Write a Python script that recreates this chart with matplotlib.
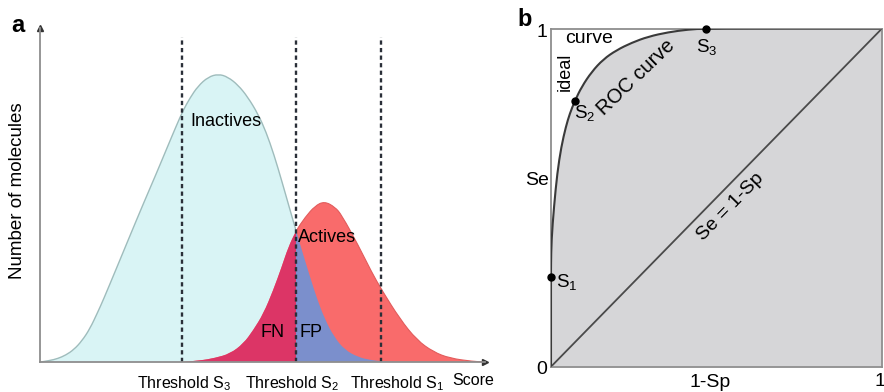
import matplotlib
matplotlib.use('Agg')
from matplotlib import pyplot as plt
from matplotlib.path import Path
from matplotlib.patches import PathPatch, Rectangle

plt.rcParams['font.family'] = ['Liberation Sans', 'DejaVu Sans']
plt.rcParams['mathtext.fontset'] = 'custom'
plt.rcParams['mathtext.rm'] = 'Liberation Sans'
plt.rcParams['mathtext.default'] = 'regular'

# score distributions: score on a 0-100 scale, counts scaled so the inactive peak is 100
inactive_score = [0.2, 2.2, 4.0, 5.8, 7.6, 9.4, 11.2, 13.0, 14.2, 17.2, 20.2, 23.2,
                  26.1, 28.8, 30.6, 32.1, 33.7, 35.5, 37.8, 40.1, 42.2, 44.5, 46.7,
                  49.0, 50.8, 52.6, 54.4, 56.0, 57.5, 59.1, 60.7, 62.2, 64.0, 66.1,
                  68.5, 71.5, 74.2, 77.1, 79.8]
inactive_count = [0.0, 0.5, 1.2, 2.4, 4.3, 7.3, 11.5, 17.4, 21.5, 32.6, 43.8, 54.9,
                  65.3, 75.3, 81.9, 87.2, 91.7, 95.8, 99.0, 100.0, 99.0, 96.2, 92.0,
                  86.1, 79.9, 71.9, 62.5, 53.8, 45.8, 37.5, 29.5, 22.2, 14.9, 8.7,
                  4.2, 1.7, 0.7, 0.2, 0.0]
active_score = [31.9, 36.0, 39.3, 42.7, 45.7, 47.9, 50.2, 52.4, 54.3, 55.8, 57.5,
                59.6, 61.8, 63.9, 66.3, 67.8, 71.5, 74.5, 76.8, 80.9, 84.7, 88.4,
                92.1, 97.3, 100.0]
active_count = [0.0, 0.5, 1.4, 2.9, 6.4, 11.0, 16.8, 24.9, 33.0, 39.9, 45.5,
                50.3, 54.2, 55.8, 53.8, 51.0, 40.6, 31.3, 25.0, 14.9, 7.6, 3.5,
                1.3, 0.2, 0.0]

thresholds = [76.6, 57.5, 31.9]
threshold_labels = ['Threshold S$_1$', 'Threshold S$_2$', 'Threshold S$_3$']
threshold_label_x = [80.2, 56.6, 32.4]
s2 = thresholds[1]

# ROC curve: 1-Sp against Se
roc_fpr = [0.0, 0.0, 0.0, 0.0015, 0.009, 0.019, 0.031, 0.045, 0.057, 0.0725, 0.093,
           0.123, 0.158, 0.198, 0.244, 0.294, 0.354, 0.415, 0.468, 1.0]
roc_tpr = [0.0, 0.264, 0.30, 0.375, 0.473, 0.573, 0.650, 0.710, 0.749, 0.787, 0.828,
           0.872, 0.909, 0.936, 0.958, 0.976, 0.989, 0.997, 1.0, 1.0]
point_names = ['S$_1$', 'S$_2$', 'S$_3$']
point_fpr = [0.0, 0.0725, 0.468]
point_tpr = [0.264, 0.787, 1.0]


def smooth_path(xs, ys, close=False):
    # quadratic bezier through the midpoints, the samples act as control points
    verts = [(xs[0], ys[0])]
    codes = [Path.MOVETO]
    for i in range(1, len(xs) - 1):
        verts += [(xs[i], ys[i]), ((xs[i] + xs[i + 1]) / 2, (ys[i] + ys[i + 1]) / 2)]
        codes += [Path.CURVE3, Path.CURVE3]
    verts.append((xs[-1], ys[-1]))
    codes.append(Path.LINETO)
    if close:
        verts += [(xs[-1], 0), (xs[0], 0), (xs[0], 0)]
        codes += [Path.LINETO, Path.LINETO, Path.CLOSEPOLY]
    return Path(verts, codes)


def add_clipped(ax, path, x0, x1, **kw):
    patch = PathPatch(path, **kw)
    ax.add_patch(patch)
    if x0 is not None:
        patch.set_clip_path(Rectangle((x0, -5), x1 - x0, 200, transform=ax.transData))
    return patch


fig = plt.figure(figsize=(8.84, 3.92), dpi=100)

# ---- panel a: score distributions ----
ax = fig.add_axes([40/884, 30/392, 445/884, 334/392])
ax.set_xlim(0, 100)
ax.set_ylim(0, 116)
inactive_fill = smooth_path(inactive_score, inactive_count, close=True)
active_fill = smooth_path(active_score, active_count, close=True)
add_clipped(ax, inactive_fill, None, None, facecolor='#d9f4f5', lw=0)
add_clipped(ax, active_fill, None, None, facecolor='#f96b6b', lw=0)
add_clipped(ax, active_fill, -5, s2, facecolor='#dc3566', lw=0)   # FN
add_clipped(ax, inactive_fill, s2, 105, facecolor='#7b8fcc', lw=0)  # FP
add_clipped(ax, smooth_path(inactive_score, inactive_count), -5, s2,
            fill=False, edgecolor='#9fbcbc', lw=1.0)
add_clipped(ax, smooth_path(active_score, active_count), s2, 105,
            fill=False, edgecolor='#e25c5c', lw=0.8)

for t in thresholds:
    ax.plot([t, t], [0, 112.8], color='#2a2f38', lw=1.7, linestyle=(0, (1.8, 1.4)))
for lx, lab in zip(threshold_label_x, threshold_labels):
    ax.text(lx, -9.0, lab, ha='center', va='baseline', fontsize=11.5, clip_on=False)
ax.text(92.6, -8.0, 'Score', ha='left', va='baseline', fontsize=11.5, clip_on=False)

ax.text(33.7, 83.7, 'Inactives', ha='left', va='center', fontsize=13)
ax.text(58.0, 43.2, 'Actives', ha='left', va='center', fontsize=13)
ax.text(52.2, 10.4, 'FN', ha='center', va='center', fontsize=13)
ax.text(60.9, 10.4, 'FP', ha='center', va='center', fontsize=13)

for side in ['top', 'right']:
    ax.spines[side].set_visible(False)
for side in ['left', 'bottom']:
    ax.spines[side].set_color('#8e8e8e')
    ax.spines[side].set_linewidth(1.3)
ax.set_xticks([])
ax.set_yticks([])
ax.plot(1, 0, '>', color='#333333', ms=4, transform=ax.get_yaxis_transform(), clip_on=False)
ax.plot(0, 1, '^', color='#333333', ms=4, transform=ax.get_xaxis_transform(), clip_on=False)

fig.text(18/884, 1 - 191/392, 'Number of molecules', rotation=90,
         ha='center', va='center', fontsize=13.5)
fig.text(18/884, 1 - 25/392, 'a', ha='center', va='center', fontsize=17, fontweight='bold')

# ---- panel b: ROC curve ----
bx = fig.add_axes([551/884, 25.3/392, 331/884, 338.2/392])
bx.set_xlim(0, 1)
bx.set_ylim(0, 1)
bx.add_patch(PathPatch(smooth_path(roc_fpr, roc_tpr, close=True), facecolor='#d6d6d8', lw=0))
bx.plot([0, 1], [0, 1], color='#4a4a4a', lw=1.3)
bx.add_patch(PathPatch(smooth_path(roc_fpr, roc_tpr), fill=False, edgecolor='#3a3a3a',
                       lw=1.5, zorder=4))
bx.plot(point_fpr, point_tpr, 'o', color='black', ms=5, clip_on=False, zorder=5)
for side in bx.spines.values():
    side.set_color('#8e8e8e')
    side.set_linewidth(1.3)
bx.set_xticks([])
bx.set_yticks([])

bx.text(-0.027, 0.987, '1', ha='center', va='center', fontsize=14)
bx.text(-0.027, -0.007, '0', ha='center', va='center', fontsize=14)
bx.text(0.48, -0.048, '1-Sp', ha='center', va='center', fontsize=14)
bx.text(0.994, -0.045, '1', ha='center', va='center', fontsize=14)
bx.text(-0.042, 0.552, 'Se', ha='center', va='center', fontsize=14)
bx.text(0.042, 0.871, 'ideal', rotation=90, ha='center', va='center', fontsize=13)
bx.text(0.115, 0.969, 'curve', ha='center', va='center', fontsize=14)
bx.text(0.257, 0.855, 'ROC curve', rotation=44, ha='center', va='center', fontsize=14.5)
bx.text(0.541, 0.472, 'Se = 1-Sp', rotation=45.6, ha='center', va='center', fontsize=14)
label_pos = [(0.048, 0.250), (0.103, 0.750), (0.471, 0.945)]
for (lx, ly), name in zip(label_pos, point_names):
    bx.text(lx, ly, name, ha='center', va='center', fontsize=13.5)

fig.text(525/884, 1 - 20/392, 'b', ha='center', va='center', fontsize=17, fontweight='bold')

fig.savefig('out.png', dpi=100)
